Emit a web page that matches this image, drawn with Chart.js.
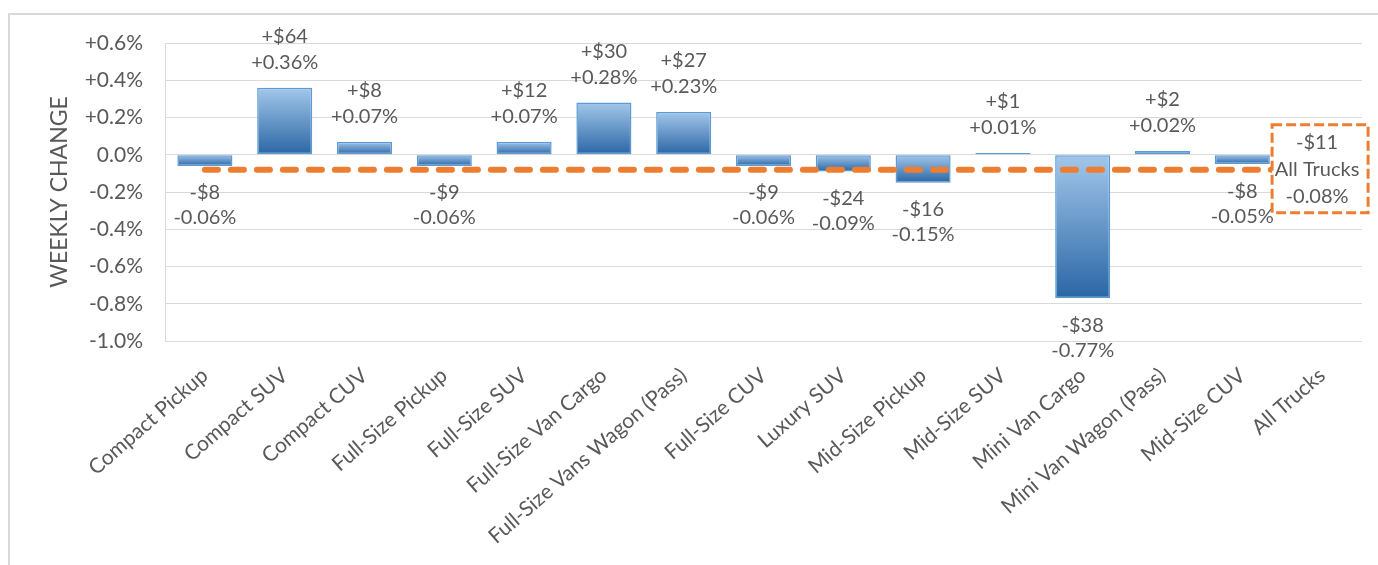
<!DOCTYPE html>
<html>
<head>
<meta charset="utf-8">
<script src="https://cdn.jsdelivr.net/npm/chart.js@4.4.1/dist/chart.umd.min.js"></script>
<style>
  html, body { margin: 0; padding: 0; background: #fff; overflow: hidden; }
  #wrap { position: relative; width: 1378px; height: 565px; }
  #frame { position: absolute; left: 8px; top: 13px; width: 1400px; height: 600px; border: 2px solid #d9d9d9; box-sizing: border-box; }
  #c { position: absolute; left: 0; top: 0; }
</style>
</head>
<body>
<div id="wrap">
  <div id="frame"></div>
  <canvas id="c" width="1378" height="565"></canvas>
</div>
<script>
const categories = ["Compact Pickup", "Compact SUV", "Compact CUV", "Full-Size Pickup", "Full-Size SUV",
  "Full-Size Van Cargo", "Full-Size Vans Wagon (Pass)", "Full-Size CUV", "Luxury SUV", "Mid-Size Pickup",
  "Mid-Size SUV", "Mini Van Cargo", "Mini Van Wagon (Pass)", "Mid-Size CUV", "All Trucks"];
const pctChange = [-0.06, 0.36, 0.07, -0.06, 0.07, 0.28, 0.23, -0.06, -0.09, -0.15, 0.01, -0.77, 0.02, -0.05, null];
const dollarChange = [-8, 64, 8, -9, 12, 30, 27, -9, -24, -16, 1, -38, 2, -8, null];
const allTrucksPct = -0.08;
const allTrucksDollar = -11;
const allTrucksLine = [-0.08, -0.08, -0.08, -0.08, -0.08, -0.08, -0.08, -0.08, -0.08, -0.08, -0.08, -0.08, -0.08, -0.08, -0.08];
const yTickMin = -1.0, yTickMax = 0.6, yTickStep = 0.2;

const FONT = "Lato, 'Open Sans', sans-serif";
const TXT = '#595959';
const ORANGE = '#ED7D31';

function fmtDollar(d) { return (d > 0 ? '+$' : '-$') + Math.abs(d); }
function fmtPct(p) { return (p > 0 ? '+' : '') + p.toFixed(2) + '%'; }

const labelPlugin = {
  id: 'valueLabels',
  afterDatasetsDraw(chart) {
    const c = chart.ctx;
    c.save();
    c.font = '20px ' + FONT;
    c.fillStyle = TXT;
    c.textAlign = 'center';
    c.textBaseline = 'middle';
    const barMeta = chart.getDatasetMeta(0);
    barMeta.data.forEach((el, i) => {
      const v = pctChange[i];
      if (v == null) return;
      const x = el.x;
      if (v >= 0) {
        c.fillText(fmtDollar(dollarChange[i]), x, el.y - 51);
        c.fillText(fmtPct(v), x, el.y - 25);
      } else {
        c.fillText(fmtDollar(dollarChange[i]), x, el.y + 27);
        c.fillText(fmtPct(v), x, el.y + 52);
      }
    });
    // All Trucks label box on the last point of the line
    const lineMeta = chart.getDatasetMeta(1);
    const last = lineMeta.data[lineMeta.data.length - 1];
    const cx = last.x - 2, cy = last.y - 1;
    const w = 96, h = 88;
    c.fillStyle = '#ffffff';
    c.fillRect(cx - w / 2, cy - h / 2, w, h);
    c.strokeStyle = ORANGE;
    c.lineWidth = 3;
    c.setLineDash([10, 4]);
    c.strokeRect(cx - w / 2, cy - h / 2, w, h);
    c.setLineDash([]);
    c.fillStyle = TXT;
    c.fillText(fmtDollar(allTrucksDollar), cx - 3, cy - 26);
    c.fillText('All Trucks', cx - 3, cy + 1);
    c.fillText(fmtPct(allTrucksPct), cx - 3, cy + 28);
    c.restore();
  }
};

new Chart(document.getElementById('c'), {
  data: {
    labels: categories,
    datasets: [
      {
        type: 'bar',
        data: pctChange,
        order: 2,
        barPercentage: 0.69,
        categoryPercentage: 1.0,
        borderColor: '#5B9BD5',
        borderWidth: 1.5,
        borderSkipped: false,
        backgroundColor: (ctx) => {
          const chart = ctx.chart;
          const area = chart.chartArea;
          if (!area || ctx.type !== 'data' || ctx.raw == null) return '#5B9BD5';
          const ys = chart.scales.y;
          const y1 = ys.getPixelForValue(ctx.raw), y0 = ys.getPixelForValue(0);
          const top = Math.min(y0, y1), bot = Math.max(y0, y1);
          if (bot - top < 2) return '#5B9BD5';
          const g = chart.ctx.createLinearGradient(0, top, 0, bot);
          g.addColorStop(0, '#a3c7ea');
          g.addColorStop(1, '#2a66a5');
          return g;
        }
      },
      {
        type: 'line',
        data: allTrucksLine,
        order: 1,
        borderColor: ORANGE,
        borderWidth: 6,
        borderDash: [13, 13],
        borderCapStyle: 'round',
        pointRadius: 0,
        fill: false,
        tension: 0
      }
    ]
  },
  options: {
    responsive: false,
    animation: false,
    layout: { padding: { left: 0, top: 43, right: 16, bottom: 0 } },
    plugins: { legend: { display: false }, tooltip: { enabled: false } },
    scales: {
      x: {
        afterFit(scale) { scale.height = 224; },
        grid: { display: false, drawTicks: false },
        border: { display: false },
        ticks: {
          autoSkip: false, maxRotation: 41, minRotation: 41, padding: 22,
          color: TXT, font: { family: FONT, size: 21 }
        }
      },
      y: {
        min: yTickMin, max: yTickMax,
        afterFit(scale) { scale.width = 165; },
        grid: { color: '#d9d9d9', lineWidth: 1, drawTicks: false },
        border: { display: true, color: '#d9d9d9', width: 1 },
        ticks: {
          stepSize: yTickStep, padding: 22, color: TXT, font: { family: FONT, size: 21 },
          callback: (v) => {
            const r = Math.round(v * 10) / 10;
            return (r > 0 ? '+' : '') + r.toFixed(1) + '%';
          }
        },
        title: {
          display: true, text: 'WEEKLY CHANGE', color: TXT,
          font: { family: FONT, size: 23 }, padding: { top: 46, bottom: 0 }
        }
      }
    }
  },
  plugins: [labelPlugin]
});
</script>
</body>
</html>
